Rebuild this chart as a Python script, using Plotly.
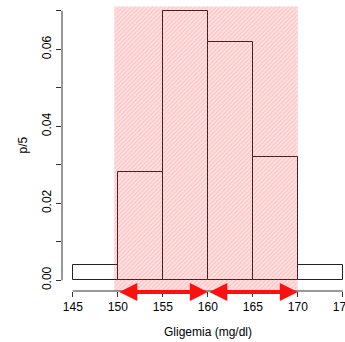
import plotly.graph_objects as go

# data
bin_left = [145, 150, 155, 160, 165, 170]
bin_width = 5
density = [0.004, 0.028, 0.070, 0.062, 0.032, 0.004]
x_ticks = [145, 150, 155, 160, 165, 170, 175]
y_ticks = [0.00, 0.01, 0.02, 0.03, 0.04, 0.05, 0.06, 0.07]
y_labels = ["0.00", "", "0.02", "", "0.04", "", "0.06", ""]
region_x = [149.6, 170.0]
region_y = [-0.0028, 0.0711]
arrow_segments = [(150, 160), (160, 170)]

FONT = "Liberation Sans, Arial, sans-serif"

fig = go.Figure()

fig.add_trace(go.Bar(
    x=[b + bin_width / 2 for b in bin_left],
    y=density,
    width=bin_width,
    marker=dict(color="white", line=dict(color="#222222", width=1)),
    showlegend=False,
))

fig.add_trace(go.Scatter(
    x=[region_x[0], region_x[1], region_x[1], region_x[0], region_x[0]],
    y=[region_y[0], region_y[0], region_y[1], region_y[1], region_y[0]],
    mode="lines",
    line=dict(width=0),
    fill="toself",
    fillcolor="rgba(255,0,0,0.13)",
    fillpattern=dict(shape="/", fgcolor="rgba(255,60,60,0.42)",
                     bgcolor="rgba(255,0,0,0.11)", size=3, solidity=0.4),
    showlegend=False,
    hoverinfo="skip",
))

for a, b in arrow_segments:
    fig.add_annotation(
        xref="x", x=b, axref="x", ax=a,
        yref="paper", y=-0.0034, ayref="pixel", ay=0,
        showarrow=True, arrowhead=2, startarrowhead=2, arrowside="end+start",
        arrowsize=0.9, startarrowsize=0.9, arrowwidth=4, arrowcolor="#ff1010",
        text="",
    )

# axis lines as in R (only spanning tick range)
fig.add_shape(type="line", xref="paper", yref="y", x0=0, x1=0, y0=0, y1=0.07,
              line=dict(color="#333333", width=1))
fig.add_shape(type="line", xref="x", yref="paper", x0=145, x1=175, y0=0, y1=0,
              line=dict(color="#333333", width=1))

fig.add_annotation(xref="x", x=160, yref="paper", y=0, yshift=-41,
                   text="Gligemia (mg/dl)", showarrow=False,
                   font=dict(family=FONT, size=12, color="black"),
                   yanchor="middle")
fig.add_annotation(xref="paper", x=0, xshift=-40, yref="paper", y=0.5,
                   text="p/5", showarrow=False, textangle=-90,
                   font=dict(family=FONT, size=12, color="black"),
                   xanchor="center", yanchor="middle")

fig.update_layout(
    width=345, height=342,
    margin=dict(l=62, r=0, t=0, b=51, pad=0),
    plot_bgcolor="white", paper_bgcolor="white",
    bargap=0,
    font=dict(family=FONT, size=12, color="black"),
    xaxis=dict(range=[143.8, 143.8 + 283 / 9], tickvals=x_ticks,
               ticktext=[str(v) for v in x_ticks],
               ticks="outside", ticklen=5, tickcolor="#333333",
               ticklabeloverflow="allow",
               showline=False, showgrid=False, zeroline=False,
               automargin=False),
    yaxis=dict(range=[-0.0028, 0.0728], tickvals=y_ticks, ticktext=y_labels,
               ticks="outside", ticklen=5, tickcolor="#333333", tickangle=-90,
               showline=False, showgrid=False, zeroline=False,
               automargin=False),
)

fig.write_html(
    "out.html",
    config={"displayModeBar": False},
    post_script="document.body.style.margin='0px';document.body.style.overflow='hidden';",
)
